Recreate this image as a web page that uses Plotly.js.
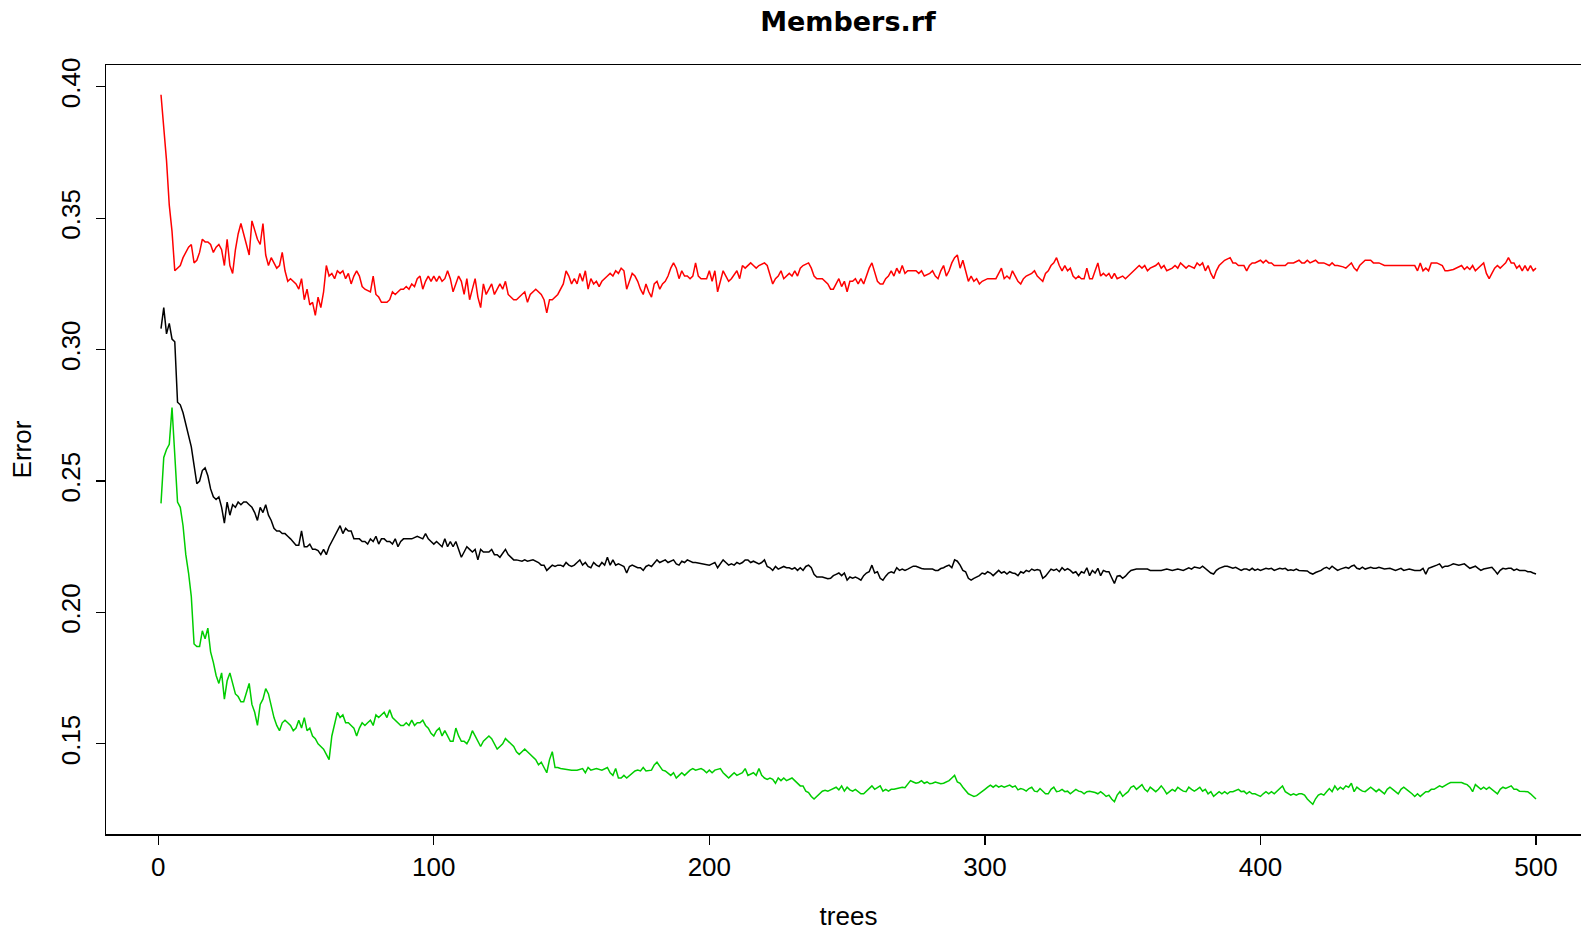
<!DOCTYPE html>
<html>
<head>
<meta charset="utf-8">
<script src="https://cdn.plot.ly/plotly-3.0.1.min.js"></script>
<style>
html,body{margin:0;padding:0;overflow:hidden;background:#fff;}
#chart{width:1600px;height:932px;}
</style>
</head>
<body>
<div id="chart"></div>
<script>
// Chart text
var chartTitle = "Members.rf";
var xLabel = "trees";
var yLabel = "Error";
var xTickVals = [0, 100, 200, 300, 400, 500];
var yTickVals = [0.15, 0.20, 0.25, 0.30, 0.35, 0.40];

// OOB error (black): [tree, error] pairs
var oobPts = [
1,0.308, 2,0.316, 3,0.306, 4,0.310, 5,0.304, 6,0.303, 7,0.280, 8,0.279, 9,0.276, 10,0.272,
11,0.268, 12,0.263, 13,0.256, 14,0.249, 15,0.250, 16,0.254, 17,0.255, 18,0.252, 19,0.247, 20,0.244,
21,0.243, 22,0.244, 23,0.240, 24,0.234, 25,0.242, 26,0.237, 27,0.241, 28,0.240, 29,0.242, 30,0.241,
31,0.242, 32,0.242, 33,0.241, 34,0.240, 35,0.238, 36,0.235, 37,0.240, 38,0.238, 39,0.241, 40,0.237,
41,0.235, 42,0.232, 43,0.231, 44,0.231, 45,0.230, 46,0.230, 47,0.229, 48,0.228, 50,0.2256, 51,0.2256,
52,0.231, 53,0.225, 54,0.225, 55,0.226, 56,0.224, 57,0.224, 58,0.2235, 59,0.222, 60,0.224, 61,0.222,
62,0.225, 63,0.227, 64,0.229, 65,0.231, 66,0.233, 67,0.230, 68,0.232, 69,0.231, 70,0.231, 71,0.228,
72,0.228, 73,0.228, 74,0.227, 75,0.227, 76,0.226, 77,0.228, 78,0.227, 79,0.229, 80,0.226, 81,0.228,
82,0.228, 83,0.227, 84,0.227, 85,0.226, 86,0.228, 87,0.225, 88,0.227, 89,0.228, 90,0.228, 92,0.228,
94,0.229, 96,0.228, 97,0.230, 98,0.228, 99,0.227, 100,0.226, 101,0.227, 102,0.226, 103,0.225, 104,0.228,
105,0.225, 106,0.227, 107,0.225, 108,0.227, 109,0.224, 110,0.221, 111,0.223, 112,0.225, 113,0.224, 114,0.223,
115,0.224, 116,0.220, 117,0.224, 118,0.223, 120,0.223, 121,0.224, 122,0.222, 123,0.222, 124,0.221, 125,0.2225,
126,0.224, 127,0.222, 128,0.221, 129,0.220, 130,0.220, 132,0.2195, 133,0.220, 134,0.2195, 136,0.220, 138,0.219,
139,0.218, 140,0.218, 141,0.216, 142,0.217, 143,0.218, 144,0.2175, 145,0.218, 146,0.218, 147,0.2175, 148,0.219,
149,0.218, 150,0.2175, 151,0.218, 152,0.219, 153,0.220, 154,0.218, 155,0.219, 156,0.2175, 157,0.217, 158,0.219,
159,0.218, 160,0.2175, 161,0.219, 162,0.218, 163,0.221, 164,0.218, 165,0.220, 166,0.218, 167,0.2185, 168,0.218,
169,0.2175, 170,0.215, 171,0.2175, 172,0.218, 173,0.2175, 174,0.217, 175,0.217, 176,0.216, 177,0.2175, 178,0.218,
179,0.2175, 180,0.219, 181,0.220, 182,0.219, 183,0.2195, 184,0.220, 185,0.219, 186,0.2195, 187,0.220, 188,0.2185,
189,0.218, 190,0.2195, 191,0.219, 192,0.220, 194,0.219, 195,0.219, 197,0.2185, 199,0.218, 200,0.218, 201,0.2185,
202,0.219, 203,0.217, 204,0.2185, 205,0.220, 206,0.219, 207,0.218, 208,0.2185, 209,0.218, 210,0.219, 211,0.2185,
212,0.219, 213,0.220, 214,0.220, 215,0.219, 216,0.2195, 217,0.219, 218,0.2185, 219,0.219, 220,0.220, 221,0.2175,
222,0.217, 223,0.216, 224,0.2175, 225,0.2165, 226,0.217, 227,0.2175, 228,0.217, 229,0.217, 230,0.2165, 231,0.217,
232,0.216, 233,0.217, 234,0.216, 235,0.2175, 236,0.218, 237,0.217, 238,0.2145, 239,0.2135, 241,0.2135, 242,0.213,
243,0.2128, 244,0.213, 245,0.214, 246,0.2145, 247,0.215, 248,0.214, 249,0.215, 250,0.2123, 251,0.2135, 252,0.213,
253,0.2135, 254,0.213, 255,0.2123, 256,0.214, 257,0.215, 258,0.2155, 259,0.218, 260,0.215, 261,0.2155, 262,0.213,
263,0.2123, 264,0.2138, 265,0.215, 266,0.2155, 267,0.215, 268,0.217, 269,0.216, 270,0.2165, 271,0.216, 272,0.2165,
273,0.2172, 274,0.2176, 275,0.2176, 276,0.217, 277,0.2167, 278,0.2165, 279,0.2165, 280,0.2167, 281,0.2165, 282,0.216,
283,0.216, 284,0.2167, 285,0.217, 286,0.2176, 287,0.218, 288,0.217, 289,0.220, 290,0.2195, 291,0.218, 292,0.216,
293,0.2155, 294,0.213, 295,0.2123, 296,0.213, 297,0.2135, 298,0.214, 299,0.215, 300,0.2146, 301,0.2155, 302,0.215,
303,0.214, 304,0.215, 305,0.216, 306,0.215, 307,0.2155, 308,0.2146, 309,0.2155, 310,0.215, 311,0.2148, 312,0.214,
313,0.2155, 314,0.215, 315,0.216, 316,0.2155, 317,0.2165, 318,0.216, 319,0.2163, 320,0.216, 321,0.213, 322,0.2138,
323,0.215, 324,0.2165, 325,0.216, 326,0.2165, 327,0.2155, 328,0.217, 329,0.216, 330,0.2167, 331,0.216, 332,0.215,
333,0.2155, 334,0.214, 335,0.2155, 336,0.215, 337,0.217, 338,0.214, 339,0.216, 340,0.215, 341,0.2168, 342,0.214,
343,0.216, 344,0.2155, 345,0.2155, 346,0.213, 347,0.211, 348,0.2138, 349,0.214, 350,0.213, 351,0.2138, 352,0.215,
353,0.216, 355,0.2165, 357,0.2165, 359,0.2165, 360,0.216, 362,0.216, 364,0.216, 366,0.2165, 368,0.216, 370,0.2165,
372,0.216, 374,0.217, 375,0.2165, 376,0.2173, 377,0.217, 378,0.2168, 379,0.2176, 380,0.2168, 381,0.216, 382,0.215,
383,0.2146, 384,0.216, 385,0.2168, 386,0.2172, 387,0.2176, 388,0.2176, 389,0.2172, 390,0.2168, 391,0.2172, 392,0.2165,
393,0.216, 394,0.2165, 395,0.2165, 396,0.216, 397,0.2168, 398,0.216, 399,0.2165, 400,0.216, 401,0.2165, 402,0.2168,
403,0.2165, 404,0.2168, 405,0.216, 406,0.2165, 407,0.2168, 408,0.2165, 409,0.2168, 410,0.216, 411,0.2162, 412,0.216,
413,0.2165, 414,0.216, 415,0.216, 416,0.216, 417,0.2158, 418,0.215, 419,0.2146, 420,0.2152, 421,0.2155, 422,0.216,
423,0.2168, 424,0.2172, 425,0.2165, 426,0.2176, 427,0.2168, 428,0.216, 429,0.2165, 430,0.2168, 431,0.2172, 432,0.2168,
433,0.2176, 434,0.218, 435,0.2168, 436,0.2165, 437,0.2172, 438,0.2165, 439,0.2168, 440,0.2172, 441,0.2168, 442,0.2168,
443,0.2172, 444,0.2168, 445,0.2165, 447,0.2168, 449,0.216, 451,0.2168, 452,0.216, 454,0.2165, 456,0.216, 458,0.216,
459,0.2168, 460,0.2146, 461,0.2168, 462,0.2172, 463,0.2175, 464,0.218, 465,0.2185, 466,0.217, 467,0.2176, 468,0.2176,
469,0.218, 470,0.2185, 472,0.218, 474,0.2185, 475,0.2176, 476,0.2168, 477,0.2172, 478,0.2176, 479,0.2168, 480,0.216,
481,0.2165, 482,0.2168, 484,0.2172, 485,0.216, 486,0.2146, 487,0.216, 488,0.2168, 489,0.2165, 490,0.2168, 491,0.2168,
492,0.216, 493,0.2165, 494,0.216, 495,0.216, 496,0.216, 497,0.2155, 498,0.2155, 499,0.215, 500,0.2146
];

// Class 1 error (red): [tree, error] pairs
var class1Pts = [
1,0.397, 2,0.385, 3,0.372, 4,0.355, 5,0.345, 6,0.330, 7,0.331, 8,0.332, 9,0.335, 10,0.337,
11,0.339, 12,0.340, 13,0.333, 14,0.334, 15,0.337, 16,0.342, 17,0.341, 18,0.341, 19,0.340, 20,0.337,
21,0.339, 22,0.340, 23,0.338, 24,0.332, 25,0.342, 26,0.332, 27,0.329, 28,0.338, 29,0.344, 30,0.348,
31,0.344, 32,0.341, 33,0.336, 34,0.349, 35,0.345, 36,0.342, 37,0.340, 38,0.348, 39,0.336, 40,0.332,
41,0.335, 42,0.333, 43,0.331, 44,0.332, 45,0.337, 46,0.330, 47,0.326, 48,0.327, 49,0.326, 50,0.325,
51,0.323, 52,0.327, 53,0.319, 54,0.323, 55,0.317, 56,0.318, 57,0.313, 58,0.320, 59,0.316, 60,0.322,
61,0.332, 62,0.328, 63,0.329, 64,0.327, 65,0.330, 66,0.329, 67,0.330, 68,0.327, 69,0.329, 70,0.325,
71,0.328, 72,0.330, 73,0.328, 74,0.324, 75,0.323, 77,0.322, 78,0.328, 79,0.321, 80,0.320, 81,0.318,
82,0.318, 83,0.318, 84,0.319, 85,0.322, 86,0.321, 88,0.323, 89,0.323, 90,0.324, 91,0.323, 92,0.325,
93,0.324, 94,0.327, 95,0.328, 96,0.323, 97,0.326, 98,0.328, 99,0.326, 100,0.328, 101,0.326, 102,0.328,
103,0.326, 104,0.327, 105,0.330, 106,0.327, 107,0.322, 108,0.325, 109,0.328, 110,0.326, 111,0.321, 112,0.327,
113,0.319, 114,0.323, 115,0.327, 116,0.320, 117,0.316, 118,0.325, 119,0.321, 120,0.323, 121,0.325, 122,0.321,
123,0.323, 124,0.325, 125,0.323, 126,0.326, 127,0.321, 129,0.319, 130,0.319, 132,0.321, 133,0.322, 134,0.318,
135,0.321, 137,0.323, 138,0.322, 139,0.321, 140,0.319, 141,0.314, 142,0.319, 143,0.319, 145,0.321, 146,0.323,
147,0.325, 148,0.330, 149,0.328, 150,0.325, 151,0.327, 152,0.325, 153,0.329, 154,0.326, 155,0.330, 156,0.323,
157,0.327, 158,0.325, 159,0.326, 160,0.324, 161,0.326, 163,0.328, 164,0.329, 165,0.328, 166,0.330, 167,0.329,
168,0.331, 169,0.330, 170,0.323, 171,0.326, 172,0.329, 173,0.328, 174,0.326, 175,0.323, 176,0.321, 177,0.325,
178,0.322, 179,0.320, 180,0.325, 181,0.326, 182,0.323, 183,0.325, 184,0.326, 185,0.328, 186,0.331, 187,0.333,
188,0.331, 189,0.327, 190,0.330, 191,0.328, 192,0.328, 193,0.327, 194,0.328, 195,0.333, 196,0.328, 197,0.327,
199,0.327, 200,0.330, 201,0.326, 202,0.330, 203,0.322, 204,0.326, 205,0.330, 206,0.328, 207,0.326, 208,0.327,
210,0.330, 211,0.327, 212,0.332, 213,0.331, 215,0.333, 216,0.332, 217,0.331, 218,0.332, 220,0.333, 221,0.332,
222,0.328, 223,0.325, 224,0.327, 225,0.328, 226,0.330, 227,0.327, 229,0.329, 230,0.328, 231,0.330, 232,0.328,
233,0.331, 234,0.332, 236,0.333, 237,0.331, 238,0.328, 239,0.327, 241,0.327, 242,0.326, 243,0.325, 244,0.323,
245,0.323, 246,0.325, 247,0.327, 248,0.324, 249,0.326, 250,0.322, 251,0.326, 252,0.326, 253,0.327, 254,0.325,
255,0.327, 256,0.325, 257,0.328, 258,0.331, 259,0.333, 260,0.329, 261,0.326, 262,0.325, 263,0.325, 264,0.327,
265,0.328, 266,0.330, 267,0.328, 268,0.331, 269,0.329, 270,0.332, 271,0.329, 272,0.330, 274,0.330, 275,0.330,
276,0.329, 277,0.330, 278,0.328, 280,0.329, 281,0.330, 282,0.328, 283,0.327, 284,0.330, 285,0.332, 286,0.328,
287,0.330, 288,0.333, 289,0.335, 290,0.336, 291,0.331, 292,0.334, 293,0.330, 294,0.326, 295,0.328, 296,0.326,
297,0.327, 298,0.325, 299,0.326, 301,0.327, 303,0.327, 304,0.327, 305,0.329, 306,0.331, 307,0.327, 308,0.328,
309,0.327, 310,0.330, 311,0.328, 312,0.326, 313,0.325, 314,0.327, 315,0.328, 317,0.329, 318,0.330, 319,0.328,
320,0.327, 321,0.326, 322,0.329, 323,0.330, 324,0.332, 325,0.333, 326,0.335, 327,0.332, 328,0.330, 329,0.332,
330,0.330, 331,0.331, 332,0.328, 333,0.327, 334,0.328, 335,0.327, 336,0.327, 337,0.331, 338,0.327, 339,0.327,
340,0.330, 341,0.333, 342,0.328, 343,0.329, 344,0.328, 345,0.329, 346,0.327, 347,0.329, 348,0.327, 350,0.328,
351,0.327, 352,0.328, 353,0.329, 354,0.330, 355,0.331, 356,0.332, 357,0.331, 358,0.332, 359,0.330, 360,0.331,
362,0.332, 363,0.333, 364,0.331, 365,0.332, 366,0.330, 368,0.331, 369,0.332, 370,0.331, 371,0.333, 373,0.331,
374,0.332, 376,0.331, 377,0.333, 378,0.332, 379,0.333, 380,0.330, 381,0.332, 382,0.329, 383,0.327, 384,0.330,
385,0.332, 386,0.333, 387,0.334, 389,0.335, 390,0.333, 391,0.333, 392,0.332, 394,0.332, 395,0.330, 396,0.332,
397,0.333, 398,0.333, 400,0.334, 401,0.333, 402,0.334, 403,0.333, 404,0.333, 405,0.332, 406,0.332, 408,0.332,
409,0.332, 410,0.333, 411,0.333, 412,0.333, 414,0.334, 415,0.333, 416,0.333, 417,0.334, 418,0.333, 420,0.334,
421,0.333, 422,0.333, 423,0.333, 425,0.332, 426,0.333, 427,0.332, 428,0.332, 430,0.3315, 431,0.331, 432,0.332,
433,0.333, 434,0.331, 435,0.330, 436,0.332, 437,0.333, 438,0.334, 440,0.334, 441,0.333, 442,0.333, 443,0.333,
445,0.332, 447,0.332, 449,0.332, 451,0.332, 453,0.332, 455,0.332, 456,0.332, 457,0.330, 458,0.333, 459,0.330,
460,0.331, 461,0.330, 462,0.333, 464,0.333, 466,0.332, 467,0.330, 468,0.330, 470,0.3305, 471,0.331, 473,0.332,
474,0.3305, 475,0.3315, 476,0.3305, 477,0.332, 478,0.330, 479,0.331, 480,0.332, 481,0.333, 482,0.329, 483,0.327,
484,0.329, 485,0.331, 486,0.332, 487,0.331, 488,0.332, 489,0.333, 490,0.335, 491,0.333, 492,0.333, 493,0.331,
494,0.332, 495,0.330, 496,0.332, 497,0.330, 498,0.332, 499,0.330, 500,0.331
];

// Class 2 error (green): [tree, error] pairs
var class2Pts = [
1,0.2415, 2,0.259, 3,0.262, 4,0.264, 5,0.278, 6,0.262, 7,0.242, 8,0.240, 9,0.233, 10,0.222,
11,0.215, 12,0.206, 13,0.188, 14,0.187, 15,0.187, 16,0.193, 17,0.190, 18,0.194, 19,0.185, 20,0.181,
21,0.176, 22,0.173, 23,0.177, 24,0.167, 25,0.174, 26,0.177, 27,0.1725, 28,0.169, 29,0.168, 30,0.166,
31,0.166, 32,0.170, 33,0.173, 34,0.165, 35,0.162, 36,0.157, 37,0.165, 38,0.167, 39,0.171, 40,0.169,
41,0.164, 42,0.160, 43,0.157, 44,0.155, 45,0.158, 46,0.159, 47,0.158, 48,0.157, 49,0.155, 50,0.156,
51,0.159, 52,0.156, 53,0.160, 54,0.155, 55,0.156, 56,0.153, 57,0.152, 58,0.150, 59,0.149, 60,0.148,
61,0.146, 62,0.144, 63,0.153, 64,0.157, 65,0.162, 66,0.160, 67,0.161, 68,0.158, 69,0.158, 70,0.157,
71,0.156, 72,0.153, 73,0.156, 74,0.158, 75,0.157, 76,0.158, 77,0.159, 78,0.157, 79,0.161, 80,0.160,
81,0.161, 82,0.162, 83,0.160, 84,0.163, 85,0.160, 86,0.159, 87,0.158, 88,0.157, 89,0.157, 90,0.158,
91,0.157, 92,0.159, 93,0.157, 94,0.158, 95,0.158, 96,0.159, 97,0.157, 98,0.156, 99,0.154, 100,0.153,
101,0.155, 102,0.156, 103,0.153, 104,0.155, 105,0.153, 106,0.151, 107,0.151, 108,0.156, 109,0.153, 110,0.151,
111,0.151, 112,0.150, 113,0.152, 114,0.155, 115,0.153, 116,0.151, 117,0.149, 118,0.151, 119,0.152, 120,0.153,
121,0.152, 122,0.150, 123,0.148, 124,0.149, 125,0.150, 126,0.152, 127,0.151, 128,0.150, 129,0.149, 130,0.147,
131,0.146, 132,0.147, 133,0.148, 134,0.147, 135,0.146, 136,0.145, 137,0.144, 138,0.142, 139,0.143, 140,0.141,
141,0.139, 142,0.144, 143,0.147, 144,0.141, 145,0.141, 146,0.1406, 148,0.1403, 150,0.140, 152,0.140, 154,0.1406,
155,0.139, 156,0.141, 157,0.140, 159,0.1406, 161,0.140, 163,0.141, 164,0.139, 165,0.138, 166,0.1406, 167,0.137,
168,0.137, 169,0.138, 170,0.137, 172,0.139, 173,0.1397, 174,0.140, 175,0.1397, 176,0.141, 177,0.1397, 179,0.140,
180,0.142, 181,0.143, 182,0.1415, 183,0.140, 184,0.1397, 185,0.139, 186,0.138, 187,0.139, 188,0.137, 189,0.138,
190,0.139, 191,0.138, 193,0.140, 194,0.1406, 195,0.140, 197,0.1406, 198,0.140, 199,0.139, 200,0.140, 201,0.139,
202,0.140, 204,0.1406, 205,0.139, 206,0.138, 207,0.137, 208,0.138, 209,0.139, 210,0.138, 212,0.139, 213,0.1406,
214,0.138, 216,0.139, 217,0.138, 218,0.1406, 219,0.138, 220,0.137, 221,0.1365, 222,0.137, 223,0.1365, 224,0.135,
225,0.137, 226,0.136, 227,0.137, 228,0.136, 230,0.137, 231,0.136, 232,0.135, 233,0.134, 234,0.134, 235,0.132,
236,0.1315, 237,0.130, 238,0.129, 239,0.130, 240,0.131, 241,0.132, 242,0.1323, 243,0.132, 244,0.1325, 245,0.133,
246,0.1335, 247,0.1325, 248,0.134, 249,0.132, 250,0.1335, 251,0.1325, 252,0.132, 253,0.1327, 254,0.132, 255,0.131,
256,0.131, 257,0.132, 258,0.1327, 259,0.134, 260,0.1327, 261,0.1335, 262,0.134, 263,0.132, 264,0.1327, 265,0.132,
266,0.1327, 267,0.1327, 268,0.133, 269,0.1333, 270,0.1335, 271,0.1333, 272,0.1345, 273,0.136, 274,0.1355, 275,0.135,
276,0.1353, 277,0.136, 278,0.135, 279,0.1355, 280,0.1348, 281,0.135, 282,0.1355, 283,0.135, 284,0.1348, 285,0.135,
286,0.1355, 287,0.136, 288,0.137, 289,0.138, 290,0.1355, 291,0.135, 292,0.1335, 293,0.132, 294,0.131, 295,0.1305,
296,0.130, 297,0.1303, 298,0.131, 299,0.1318, 300,0.1327, 301,0.1335, 302,0.1343, 303,0.1335, 304,0.1343, 305,0.1335,
306,0.134, 307,0.1335, 308,0.134, 309,0.1343, 310,0.1335, 311,0.134, 312,0.1325, 313,0.133, 314,0.1327, 315,0.132,
316,0.133, 317,0.1335, 318,0.132, 319,0.1318, 320,0.133, 321,0.1318, 322,0.131, 323,0.131, 324,0.1327, 325,0.1335,
326,0.1318, 327,0.132, 328,0.1327, 329,0.1318, 330,0.132, 331,0.131, 332,0.1318, 333,0.1327, 334,0.132, 335,0.1318,
336,0.131, 337,0.1318, 338,0.132, 339,0.1318, 340,0.1315, 341,0.131, 342,0.1318, 343,0.131, 344,0.130, 345,0.1305,
346,0.129, 347,0.128, 348,0.1305, 349,0.1318, 350,0.130, 351,0.131, 352,0.1318, 353,0.1335, 354,0.134, 355,0.1327,
356,0.1335, 357,0.1345, 358,0.1327, 359,0.1318, 360,0.1335, 361,0.1327, 362,0.1318, 363,0.1327, 364,0.134, 365,0.1327,
366,0.131, 367,0.1318, 368,0.1327, 369,0.132, 370,0.1335, 371,0.1327, 372,0.132, 373,0.1318, 374,0.1335, 375,0.1327,
376,0.132, 377,0.1327, 378,0.1335, 379,0.132, 380,0.1327, 381,0.131, 382,0.1318, 383,0.130, 384,0.131, 385,0.1318,
386,0.131, 387,0.1318, 388,0.131, 389,0.1318, 390,0.1318, 391,0.1322, 392,0.1327, 393,0.1318, 394,0.132, 395,0.131,
396,0.1318, 397,0.131, 398,0.131, 399,0.1305, 400,0.130, 401,0.131, 402,0.1318, 403,0.131, 404,0.1318, 405,0.131,
406,0.132, 407,0.1327, 408,0.134, 409,0.1318, 410,0.131, 411,0.1305, 412,0.131, 413,0.1305, 414,0.131, 415,0.131,
416,0.1305, 417,0.129, 418,0.128, 419,0.127, 420,0.1291, 421,0.1305, 422,0.131, 423,0.1305, 424,0.1318, 425,0.133,
426,0.1318, 427,0.134, 428,0.1325, 429,0.1335, 430,0.1327, 431,0.134, 432,0.1335, 433,0.135, 434,0.1318, 435,0.1335,
436,0.1327, 437,0.132, 438,0.1318, 439,0.1327, 440,0.1335, 441,0.1327, 442,0.1318, 443,0.1327, 444,0.132, 445,0.131,
446,0.1327, 447,0.1335, 448,0.1327, 449,0.132, 450,0.131, 451,0.1327, 452,0.1335, 453,0.1327, 454,0.132, 455,0.131,
456,0.130, 457,0.131, 458,0.130, 459,0.131, 460,0.1318, 461,0.1318, 462,0.1327, 463,0.1327, 464,0.1335, 465,0.134,
466,0.1335, 467,0.1343, 468,0.1348, 469,0.1353, 470,0.1353, 471,0.1355, 472,0.1353, 473,0.1353, 474,0.1348, 475,0.1345,
476,0.1335, 477,0.1318, 478,0.1345, 479,0.1335, 480,0.1327, 481,0.1335, 482,0.1327, 483,0.1335, 484,0.1327, 485,0.1318,
486,0.131, 487,0.1327, 488,0.1335, 489,0.133, 490,0.1335, 491,0.134, 492,0.1327, 493,0.1327, 494,0.132, 495,0.132,
496,0.132, 497,0.1318, 498,0.131, 499,0.130, 500,0.129
];

function split(pts) {
  var xs = [], ys = [];
  for (var i = 0; i < pts.length; i += 2) { xs.push(pts[i]); ys.push(pts[i + 1]); }
  return {x: xs, y: ys};
}

var series = [
  {name: "OOB", pts: oobPts, color: "#000000"},
  {name: "1", pts: class1Pts, color: "#FF0000"},
  {name: "2", pts: class2Pts, color: "#00CD00"}
];

var traces = series.map(function (s) {
  var d = split(s.pts);
  return {
    type: "scatter", mode: "lines", name: s.name,
    x: d.x, y: d.y,
    line: {color: s.color, width: 1.5},
    hoverinfo: "x+y+name"
  };
});

var tickFont = {family: "Liberation Sans Narrow, Liberation Sans, Arial, sans-serif", size: 26, color: "#000"};

var layout = {
  width: 1600, height: 932,
  margin: {l: 106, r: 9, t: 65, b: 98, pad: 0},
  paper_bgcolor: "#fff", plot_bgcolor: "#fff",
  showlegend: false,
  title: {
    text: "<b>" + chartTitle + "</b>",
    font: {family: "DejaVu Sans, sans-serif", size: 27, color: "#000"},
    x: 848 / 1600, xanchor: "center", xref: "container",
    y: 1 - 22 / 932, yanchor: "middle", yref: "container"
  },
  xaxis: {
    range: [-18.96, 519.96], autorange: false,
    tickvals: xTickVals, ticktext: xTickVals.map(String),
    ticks: "outside", ticklen: 9, tickwidth: 1.2, tickcolor: "#000",
    showgrid: false, zeroline: false,
    showline: true, mirror: true, linecolor: "#000", linewidth: 1.5,
    tickfont: tickFont,
    title: {text: xLabel, font: tickFont, standoff: 26}
  },
  yaxis: {
    range: [0.1157, 0.4083], autorange: false,
    tickvals: yTickVals, ticktext: yTickVals.map(function (v) { return v.toFixed(2); }),
    tickangle: -90,
    ticks: "outside", ticklen: 9, tickwidth: 1.2, tickcolor: "#000",
    ticklabelstandoff: 5,
    showgrid: false, zeroline: false,
    showline: true, mirror: true, linecolor: "#000", linewidth: 1.5,
    tickfont: tickFont,
    title: {text: yLabel, font: tickFont, standoff: 17}
  }
};

Plotly.newPlot("chart", traces, layout, {displayModeBar: false, staticPlot: true});
</script>
</body>
</html>
